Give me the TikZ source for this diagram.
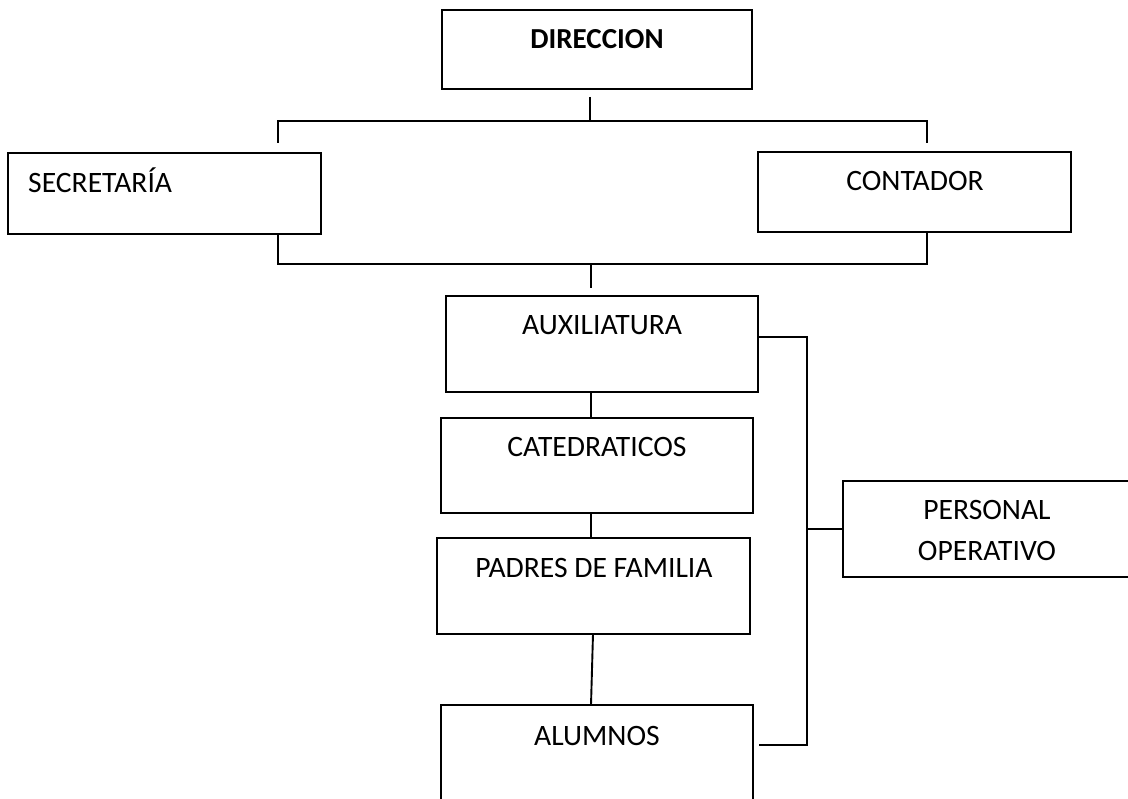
\documentclass[tikz,border=0pt]{standalone}
\usepackage{fontspec}
\setmainfont{Carlito}
\begin{document}
\begin{tikzpicture}[x=1pt,y=-1pt,
  box/.style={draw=black, line width=1.9pt, inner sep=0pt, outer sep=0pt, anchor=north west},
  lbl/.style={anchor=base, inner sep=0pt, font=\fontsize{29.6}{42}\selectfont},
  conn/.style={draw=black, line width=1.9pt}]
\useasboundingbox (0,0) rectangle (1128,799);
\clip (0,0) rectangle (1128,799);
% boxes
\node[box, minimum width=310pt, minimum height=79pt] (dir) at (442,10) {};
\node[box, minimum width=313pt, minimum height=81pt] (sec) at (8,153) {};
\node[box, minimum width=313pt, minimum height=80pt] (con) at (758,152) {};
\node[box, minimum width=312pt, minimum height=96pt] (aux) at (446,296) {};
\node[box, minimum width=312pt, minimum height=95pt] (cat) at (441,418) {};
\node[box, minimum width=313pt, minimum height=96pt] (pad) at (437,538) {};
\node[box, minimum width=312pt, minimum height=110pt] (alu) at (441,705) {};
\node[box, minimum width=300pt, minimum height=96pt] (per) at (843,481) {};
% texts
\node[lbl, font=\fontsize{29}{42}\selectfont\bfseries] (dirt) at (597,49) {DIRECCION};
\node[lbl, anchor=base west] (sect) at (28,193) {SECRETARÍA};
\node[lbl] (cont) at (915,191) {CONTADOR};
\node[lbl] (auxt) at (602,335) {AUXILIATURA};
\node[lbl] (catt) at (597,457) {CATEDRATICOS};
\node[lbl] (padt) at (594,577) {PADRES DE FAMILIA};
\node[lbl] (alut) at (597,745) {ALUMNOS};
\node[lbl] (pert1) at (987,519) {PERSONAL};
\node[lbl] (pert2) at (987,561) {OPERATIVO};
% coordinates
\coordinate (dirlow) at (590,97);
\coordinate (topbar) at (590,121);
\coordinate (ltop) at (278,121);
\coordinate (rtop) at (927,121);
\coordinate (lend) at (278,143);
\coordinate (rend) at (927,143);
\coordinate (lbot) at (278,264);
\coordinate (rbot) at (927,264);
\coordinate (mbot) at (591,264);
\coordinate (mlow) at (591,288);
\coordinate (tx) at (591,0);
\coordinate (sx) at (807,0);
\coordinate (aluR) at (759,745);
% connectors
\draw[conn] (dirlow) -- (topbar);
\draw[conn] (lend) -- (ltop) -- (rtop) -- (rend);
\draw[conn] (ltop |- sec.south) -- (lbot) -- (rbot) -- (rtop |- con.south);
\draw[conn] (mbot) -- (mlow);
\draw[conn] (tx |- aux.south) -- (tx |- cat.north);
\draw[conn] (tx |- cat.south) -- (tx |- pad.north);
\draw[conn] ([xshift=2pt]tx |- pad.south) -- (tx |- alu.north);
\draw[conn] (aux.east |- 0,337) -- (sx |- 0,337) -- (sx |- aluR) -- (aluR);
\draw[conn] (sx |- 0,529) -- (per.west |- 0,529);
\end{tikzpicture}
\end{document}
